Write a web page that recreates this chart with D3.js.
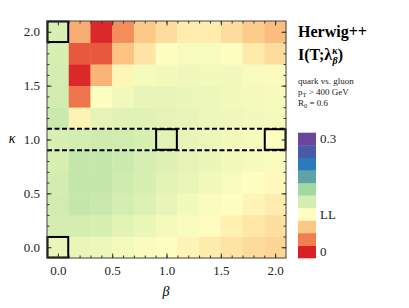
<!DOCTYPE html>
<html><head><meta charset="utf-8">
<script src="https://cdn.jsdelivr.net/npm/d3@7"></script>
<style>body{margin:0;background:#fff}svg{display:block}text{font-family:"Liberation Serif","DejaVu Serif",serif}</style>
</head><body>
<svg id="c" width="409" height="308"></svg>
<script>
// beta values (columns) and kappa values (rows)
const betas = [0,0.2,0.4,0.6,0.8,1.0,1.2,1.4,1.6,1.8,2.0];
const kappas = [0,0.2,0.4,0.6,0.8,1.0,1.2,1.4,1.6,1.8,2.0];
// mutual information I(T;lambda), rows by kappa (0.0 first), columns by beta
const mi = [
  [0.116,0.116,0.113,0.108,0.104,0.100,0.094,0.089,0.084,0.079,0.075], // k=0.0
  [0.133,0.133,0.130,0.122,0.115,0.108,0.103,0.099,0.092,0.086,0.082], // k=0.2
  [0.135,0.143,0.140,0.133,0.125,0.117,0.110,0.104,0.100,0.094,0.090], // k=0.4
  [0.134,0.145,0.143,0.137,0.130,0.122,0.116,0.110,0.105,0.100,0.097], // k=0.6
  [0.130,0.143,0.143,0.138,0.132,0.125,0.120,0.115,0.110,0.106,0.103], // k=0.8
  [0.130,0.133,0.137,0.135,0.130,0.122,0.117,0.114,0.110,0.107,0.100], // k=1.0
  [0.140,0.093,0.120,0.123,0.123,0.120,0.117,0.114,0.112,0.109,0.108], // k=1.2
  [0.135,0.030,0.100,0.110,0.117,0.117,0.115,0.113,0.110,0.108,0.106], // k=1.4
  [0.133,0.003,0.058,0.095,0.107,0.110,0.112,0.110,0.109,0.105,0.104], // k=1.6
  [0.130,0.020,0.020,0.065,0.085,0.100,0.105,0.105,0.100,0.088,0.080], // k=1.8
  [0.130,0.055,0.003,0.040,0.068,0.080,0.090,0.090,0.080,0.070,0.062]  // k=2.0
];
// colour bar bins, bottom (0) to top (0.3)
const binValues = [0,0.0333,0.0667,0.1,0.1333,0.1667,0.2,0.2333,0.2667,0.3];
const binColors = ["#d92024","#f07e4f","#fdc785","#fefec0","#d4edb0","#a3d9a0","#5fa3a8","#2b7bba","#4a5aa8","#6a479f"];
const barLabels = [{bin:9,text:"0.3"},{bin:3,text:"LL"},{bin:0,text:"0"}];
// highlighted cells [beta, kappa]
const boxes = [[0,2],[0,0],[1,1],[2,1]];
const dashedKappa = [0.9,1.1];
const tickLabels = ["0.0","0.5","1.0","1.5","2.0"];
const majorTicks = [0,0.5,1,1.5,2];
const minorTicks = d3.range(0,21).map(i=>i/10);

const svg = d3.select("#c");
const x = d3.scaleLinear().domain([-0.1,2.1]).range([47,286]);
const y = d3.scaleLinear().domain([-0.1,2.1]).range([258,21]);
const color = d3.scaleLinear().domain(binValues).range(binColors).interpolate(d3.interpolateRgb).clamp(true);

const cells = [];
kappas.forEach((k,i)=>betas.forEach((b,j)=>cells.push({b,k,v:mi[i][j]})));
const cw = x(0.2)-x(0), ch = y(0)-y(0.2);
svg.append("g").selectAll("rect").data(cells).join("rect")
  .attr("x",d=>x(d.b-0.1)).attr("y",d=>y(d.k+0.1))
  .attr("width",cw+0.4).attr("height",ch+0.4)
  .attr("fill",d=>color(d.v));

// dashed lines
svg.append("g").selectAll("line").data(dashedKappa).join("line")
  .attr("x1",x(-0.1)).attr("x2",x(2.1)).attr("y1",d=>y(d)).attr("y2",d=>y(d))
  .attr("stroke","#000").attr("stroke-width",2).attr("stroke-dasharray","5,2.5");

// boxes
svg.append("g").selectAll("rect").data(boxes).join("rect")
  .attr("x",d=>x(d[0]-0.1)+0.5).attr("y",d=>y(d[1]+0.1)+0.5)
  .attr("width",cw-1).attr("height",ch-1)
  .attr("fill","none").attr("stroke","#000").attr("stroke-width",2);

// frame
svg.append("rect").attr("x",x(-0.1)).attr("y",y(2.1)).attr("width",x(2.1)-x(-0.1)).attr("height",y(-0.1)-y(2.1))
  .attr("fill","none").attr("stroke","#444").attr("stroke-width",1);

function styleAxis(g){g.attr("font-family","Liberation Serif, serif");g.select(".domain").remove();g.selectAll("line").attr("stroke","#333");g.selectAll("text").attr("font-size",13).attr("fill","#222").style("font-family","'Liberation Serif', serif");}
// minor ticks
svg.append("g").attr("transform",`translate(0,${y(-0.1)})`).call(d3.axisBottom(x).tickValues(minorTicks).tickSize(-2.5).tickFormat("")).call(styleAxis);
svg.append("g").attr("transform",`translate(0,${y(2.1)})`).call(d3.axisTop(x).tickValues(minorTicks).tickSize(-2.5).tickFormat("")).call(styleAxis);
svg.append("g").attr("transform",`translate(${x(-0.1)},0)`).call(d3.axisLeft(y).tickValues(minorTicks).tickSize(-2.5).tickFormat("")).call(styleAxis);
svg.append("g").attr("transform",`translate(${x(2.1)},0)`).call(d3.axisRight(y).tickValues(minorTicks).tickSize(-2.5).tickFormat("")).call(styleAxis);
// major ticks
svg.append("g").attr("transform",`translate(0,${y(-0.1)})`).call(d3.axisBottom(x).tickValues(majorTicks).tickSize(-4.5).tickPadding(8).tickFormat((d,i)=>tickLabels[i])).call(styleAxis);
svg.append("g").attr("transform",`translate(0,${y(2.1)})`).call(d3.axisTop(x).tickValues(majorTicks).tickSize(-4.5).tickFormat("")).call(styleAxis);
svg.append("g").attr("transform",`translate(${x(-0.1)},0)`).call(d3.axisLeft(y).tickValues(majorTicks).tickSize(-4.5).tickPadding(7).tickFormat((d,i)=>tickLabels[i])).call(styleAxis);
svg.append("g").attr("transform",`translate(${x(2.1)},0)`).call(d3.axisRight(y).tickValues(majorTicks).tickSize(-4.5).tickFormat("")).call(styleAxis);

// axis titles
svg.append("text").attr("x",166).attr("y",296).attr("font-size",14).attr("font-style","italic").attr("text-anchor","middle").text("β");
svg.append("text").attr("x",12).attr("y",143).attr("font-size",14).attr("font-style","italic").attr("text-anchor","middle").text("κ");

// colour bar
const cb = d3.scaleBand().domain(d3.range(binColors.length)).range([258,132.7]);
svg.append("g").selectAll("rect").data(binColors).join("rect")
  .attr("x",298).attr("width",18).attr("y",(d,i)=>cb(i)).attr("height",cb.bandwidth()+0.3).attr("fill",d=>d);
svg.append("g").selectAll("text").data(barLabels).join("text")
  .attr("x",320).attr("y",d=>cb(d.bin)+cb.bandwidth()/2+4.5).attr("font-size",13).attr("fill","#222").text(d=>d.text);

// title block
svg.append("text").attr("x",298).attr("y",37).attr("font-size",16).attr("font-weight","bold").text("Herwig++");
const t2 = svg.append("text").attr("x",298).attr("y",60).attr("font-size",16).attr("font-weight","bold");
t2.append("tspan").text("I(T;λ");
t2.append("tspan").attr("font-size",10).attr("font-style","italic").attr("dy",-6).text("κ");
t2.append("tspan").attr("font-size",10).attr("font-style","italic").attr("dx",-5).attr("dy",10).text("β");
t2.append("tspan").attr("dy",-4).text(")");
const info = svg.append("g").attr("font-size",9).attr("fill","#222");
info.append("text").attr("x",298).attr("y",84).text("quark vs. gluon");
const pt = info.append("text").attr("x",298).attr("y",95);
pt.append("tspan").text("p");
pt.append("tspan").attr("font-size",6.5).attr("dy",2).text("T");
pt.append("tspan").attr("dy",-2).text(" > 400 GeV");
const r0 = info.append("text").attr("x",298).attr("y",106);
r0.append("tspan").text("R");
r0.append("tspan").attr("font-size",6.5).attr("dy",2).text("0");
r0.append("tspan").attr("dy",-2).text(" = 0.6");
</script>
</body></html>
